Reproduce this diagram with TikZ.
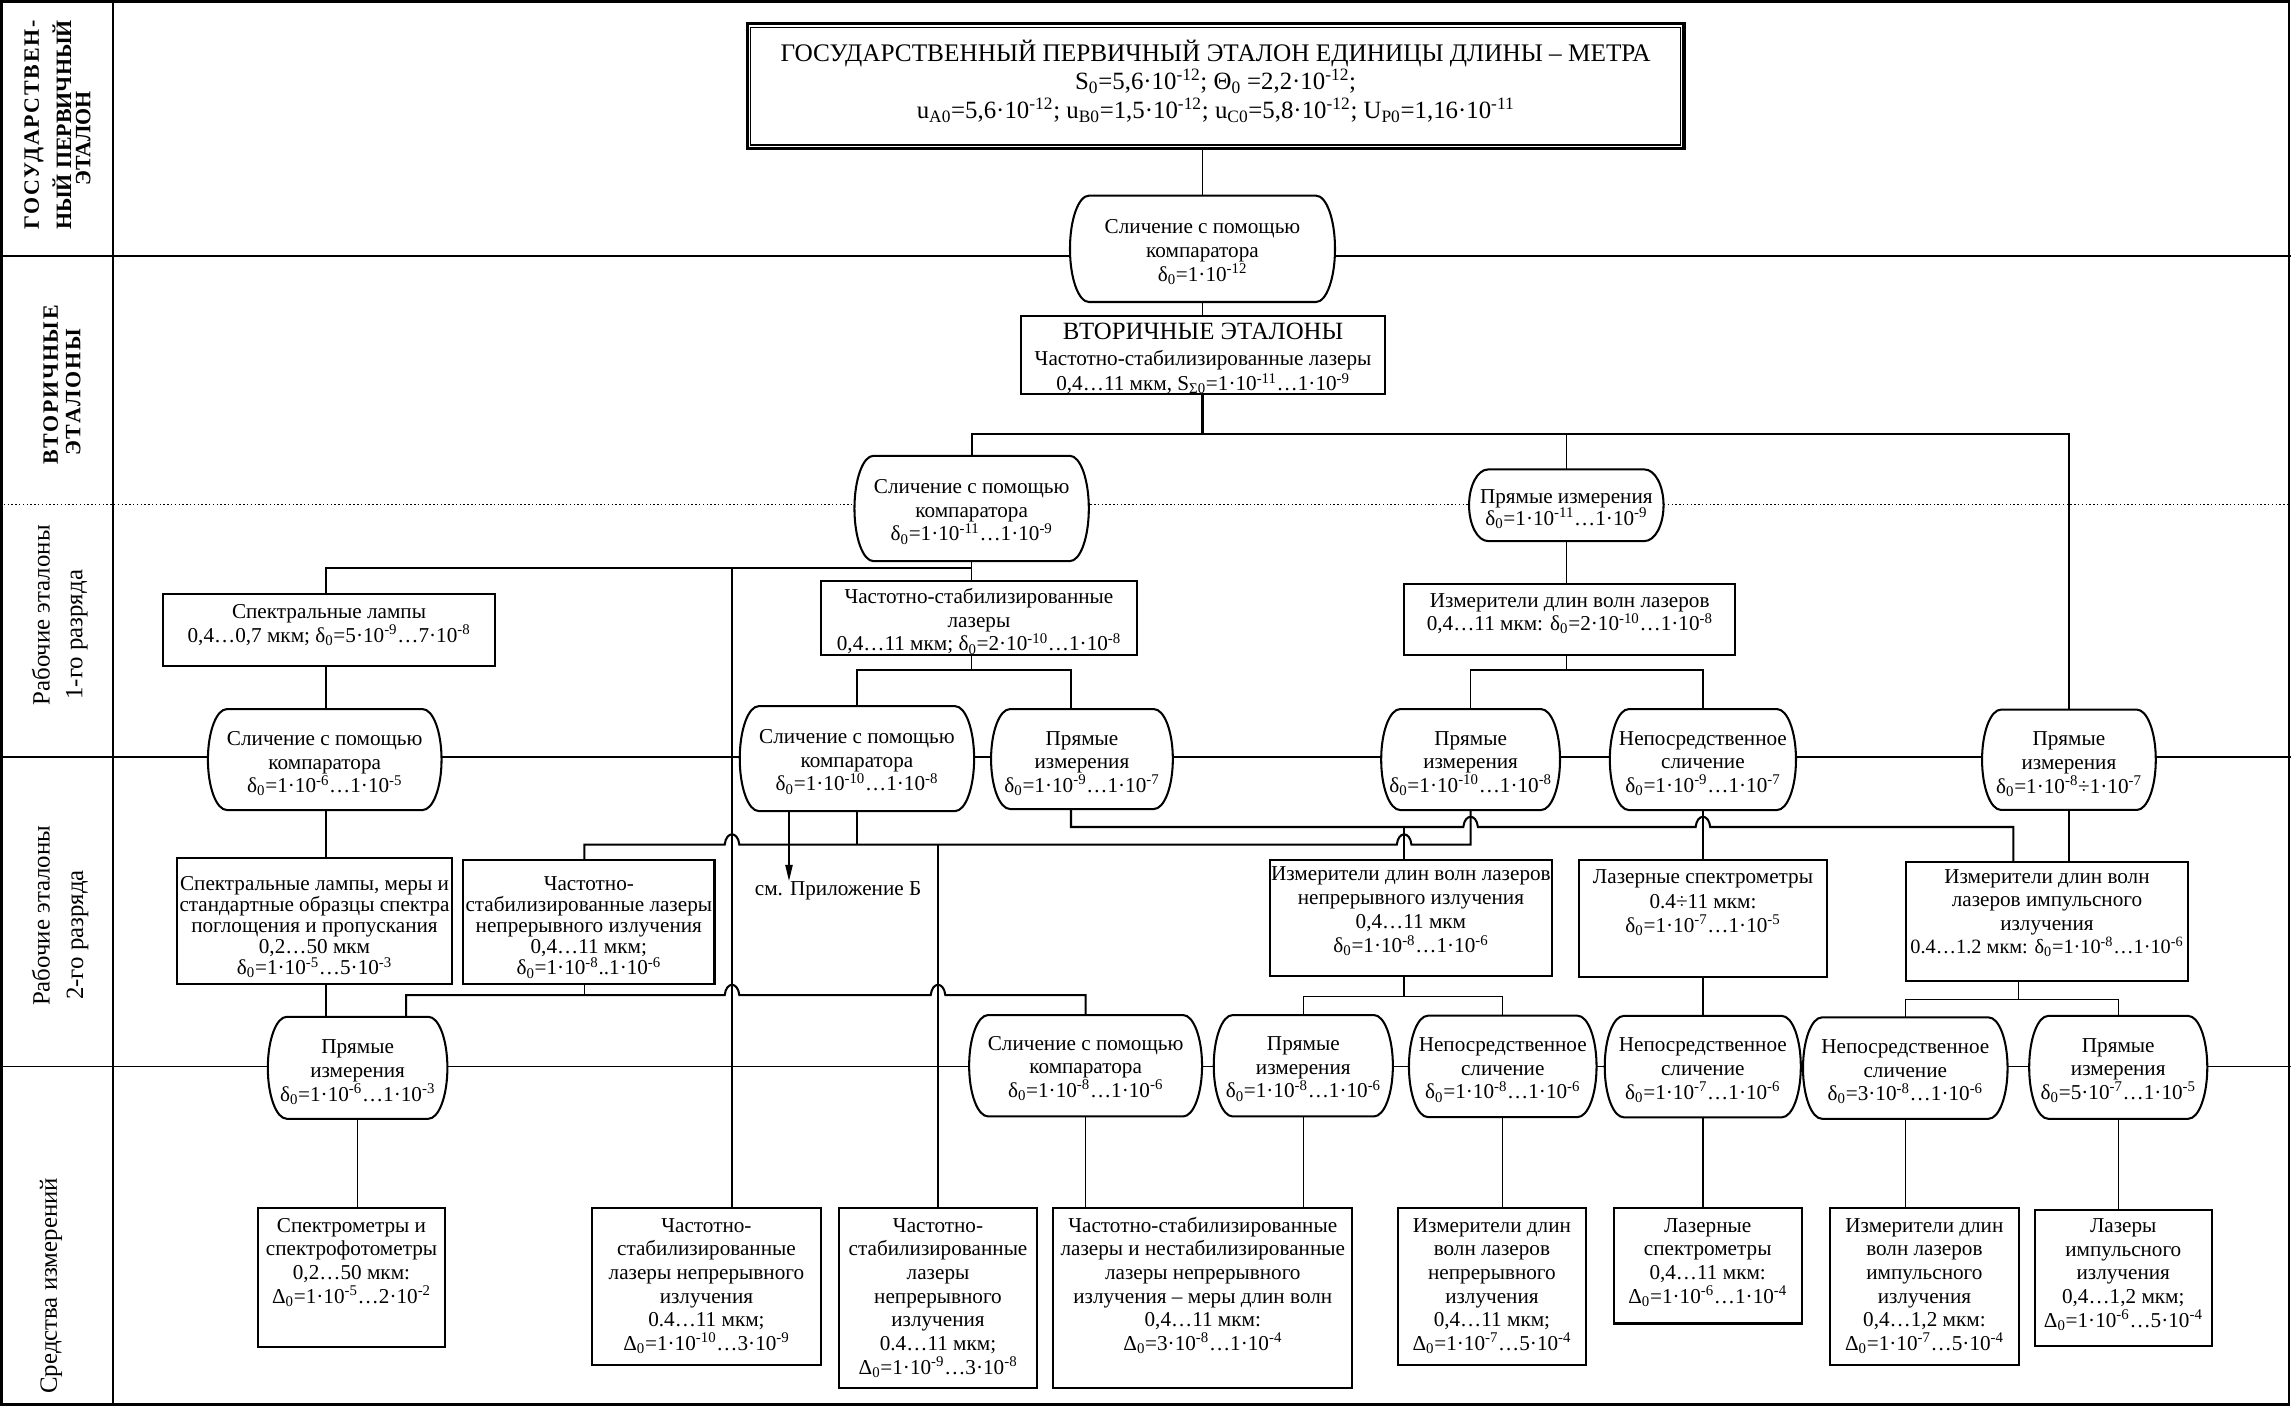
\documentclass[tikz,border=0pt]{standalone}
\usepackage{fontspec}
\setmainfont{Liberation Serif}
\usetikzlibrary{arrows.meta,calc}
\makeatletter
\newdimen\brlxa \newdimen\brlya \newdimen\brlxb \newdimen\brlyb \newdimen\brlry
\pgfdeclareshape{barrel}{%
  \inheritsavedanchors[from=rectangle]%
  \inheritanchorborder[from=rectangle]%
  \inheritanchor[from=rectangle]{center}%
  \inheritanchor[from=rectangle]{north}%
  \inheritanchor[from=rectangle]{south}%
  \inheritanchor[from=rectangle]{east}%
  \inheritanchor[from=rectangle]{west}%
  \inheritanchor[from=rectangle]{north east}%
  \inheritanchor[from=rectangle]{north west}%
  \inheritanchor[from=rectangle]{south east}%
  \inheritanchor[from=rectangle]{south west}%
  \backgroundpath{%
    \southwest \global\brlxa=\pgf@x \global\brlya=\pgf@y
    \northeast \global\brlxb=\pgf@x \global\brlyb=\pgf@y
    \global\brlry=\brlyb \global\advance\brlry by -\brlya \global\divide\brlry by 2
    \pgfpathmoveto{\pgfqpoint{\dimexpr\brlxa+13pt\relax}{\brlyb}}%
    \pgfpathlineto{\pgfqpoint{\dimexpr\brlxb-13pt\relax}{\brlyb}}%
    \pgfpatharc{90}{-90}{13pt and \brlry}%
    \pgfpathlineto{\pgfqpoint{\dimexpr\brlxa+13pt\relax}{\brlya}}%
    \pgfpatharc{270}{90}{13pt and \brlry}%
    \pgfpathclose
  }%
}
\makeatother
\newcommand\mydz{δ\textsubscript{0}}
\newcommand\myDz{Δ\textsubscript{0}}
\newcommand\mytp[1]{·10\textsuperscript{#1}}
\newcommand\bt[5][16.2pt]{\parbox[c][#3][t]{#2}{\vspace*{#4}\makebox[#2][c]{\parbox[t]{700pt}{\fontsize{14.5pt}{#1}\selectfont\lineskiplimit=-100pt\lineskip=0pt\centering\strut#5\par}}}}
\newcommand\lfa{\fontsize{15pt}{18pt}\selectfont\bfseries}
\newcommand\lfb{\fontsize{17pt}{20pt}\selectfont}
\tikzset{
  rbox/.style={draw, rectangle, line width=1.4pt, fill=white, inner sep=0pt},
  brl/.style={draw, shape=barrel, line width=1.4pt, fill=white, inner sep=0pt},
  conn/.style={line width=1pt},
  thk/.style={line width=1.4pt},
  jump/.style 2 args={insert path={-- (#1-5,#2) .. controls (#1-4,#2-9.3) and (#1+4,#2-9.3) .. (#1+5,#2)}},
  lbl/.style={rotate=90, inner sep=0pt},
}
\begin{document}
\begin{tikzpicture}[x=1pt,y=-1pt]
\useasboundingbox (0,0) rectangle (1568,962);
% frame and lanes
\draw[line width=1.1pt] (0,175.1) -- (1568,175.1);
\draw[line width=0.9pt, dash pattern=on 1pt off 1.6pt] (0,345.2) -- (1568,345.2);
\draw[line width=1.1pt] (0,518) -- (1568,518);
\draw[line width=1.1pt] (0,730) -- (1568,730);
\draw[line width=1.4pt] (77.6,0) -- (77.6,962);
\draw[line width=1.9pt] (0.95,0.95) rectangle (1566.6,961.4);
% lane labels
\node[lbl, font=\lfa\addfontfeatures{LetterSpace=8}] (L1a) at (23.2,85.6) {ГОСУДАРСТВЕН-};
\node[lbl, font=\lfa] (L1b) at (42.3,85.6) {НЫЙ ПЕРВИЧНЫЙ};
\node[lbl, font=\lfa] (L1c) at (57,94.7) {ЭТАЛОН};
\node[lbl, font=\lfa\addfontfeatures{LetterSpace=8}] (L2a) at (34.7,263.5) {ВТОРИЧНЫЕ};
\node[lbl, font=\lfa\addfontfeatures{LetterSpace=8}] (L2b) at (50.2,268.6) {ЭТАЛОНЫ};
\node[lbl, font=\lfb, anchor=west] (L3a) at (28,483) {Рабочие эталоны};
\node[lbl, font=\lfb, anchor=west] (L3b) at (52.5,479) {1-го разряда};
\node[lbl, font=\lfb, anchor=west] (L4a) at (28,688.6) {Рабочие эталоны};
\node[lbl, font=\lfb, anchor=west] (L4b) at (53,684.5) {2-го разряда};
\node[lbl, font=\lfb, anchor=west] (L5) at (35,954) {Средства измерений};
% title
\node[rbox, line width=2.2pt] (T) at (832,58.95) {\bt[19.6pt]{641pt}{85.3pt}{11pt}{{\fontsize{17.3pt}{19.6pt}\selectfont ГОСУДАРСТВЕННЫЙ ПЕРВИЧНЫЙ ЭТАЛОН ЕДИНИЦЫ ДЛИНЫ – МЕТРА}\\{\fontsize{17pt}{19.6pt}\selectfont S\textsubscript{0}=5,6\mytp{-12}; Θ\textsubscript{0} =2,2\mytp{-12};}\\{\fontsize{17pt}{19.6pt}\selectfont u\textsubscript{A0}=5,6\mytp{-12}; u\textsubscript{B0}=1,5\mytp{-12}; u\textsubscript{C0}=5,8\mytp{-12}; U\textsubscript{P0}=1,16\mytp{-11}}}};
\draw[line width=0.9pt] ($(T.north west)+(3.4,3.4)$) rectangle ($(T.south east)+(-3.4,-3.4)$);
% upper nodes
\node[brl] (C1) at (823,170.3) {\bt[16.3pt]{180pt}{71.4pt}{13.8pt}{Сличение с помощью\\компаратора\\\mydz=1\mytp{-12}}};
\node[rbox] (B2) at (823.4,242.95) {\bt[17.4pt]{249.6pt}{53.9pt}{4.5pt}{{\fontsize{17pt}{17.4pt}\selectfont ВТОРИЧНЫЕ ЭТАЛОНЫ}\\Частотно-стабилизированные лазеры\\0,4…11 мкм, S\textsubscript{Σ0}=1\mytp{-11}…1\mytp{-9}}};
\node[brl] (C2) at (665,348) {\bt{159pt}{70.7pt}{13.8pt}{Сличение с помощью\\компаратора\\\mydz=1\mytp{-11}…1\mytp{-9}}};
\node[brl] (P2) at (1072,345.8) {\bt[15pt]{131.7pt}{47.6pt}{12pt}{Прямые измерения\\\mydz=1\mytp{-11}…1\mytp{-9}}};
% rank 1
\node[rbox] (Bsl) at (225.2,431.1) {\bt{227pt}{49pt}{5.5pt}{Спектральные лампы\\0,4…0,7 мкм; \mydz=5\mytp{-9}…7\mytp{-8}}};
\node[rbox] (B3) at (670,423) {\bt{216pt}{50.8pt}{4.2pt}{Частотно-стабилизированные\\лазеры\\0,4…11 мкм; \mydz=2\mytp{-10}…1\mytp{-8}}};
\node[rbox] (Bw) at (1074.35,424) {\bt{226.7pt}{48.6pt}{4.4pt}{Измерители длин волн лазеров\\0,4…11 мкм: \mydz=2\mytp{-10}…1\mytp{-8}}};
\node[brl] (C3) at (222.25,519.85) {\bt{158.5pt}{67.7pt}{12.8pt}{Сличение с помощью\\компаратора\\\mydz=1\mytp{-6}…1\mytp{-5}}};
\node[brl] (C4) at (586.5,519.2) {\bt{159pt}{70.4pt}{13.6pt}{Сличение с помощью\\компаратора\\\mydz=1\mytp{-10}…1\mytp{-8}}};
\node[brl] (P4) at (740.5,519.5) {\bt{123pt}{67pt}{12.7pt}{Прямые\\измерения\\\mydz=1\mytp{-9}…1\mytp{-7}}};
\node[brl] (P5) at (1006.5,519.85) {\bt{121pt}{67.7pt}{12.7pt}{Прямые\\измерения\\\mydz=1\mytp{-10}…1\mytp{-8}}};
\node[brl] (N5) at (1165.5,519.85) {\bt{126pt}{67.7pt}{12.7pt}{Непосредственное\\сличение\\\mydz=1\mytp{-9}…1\mytp{-7}}};
\node[brl] (P6) at (1416,520) {\bt{117.5pt}{67.3pt}{12.7pt}{Прямые\\измерения\\\mydz=1\mytp{-8}÷1\mytp{-7}}};
% rank 2
\node[rbox] (B14) at (215.25,630.25) {\bt[14.5pt]{188.5pt}{86.5pt}{12pt}{Спектральные лампы, меры и\\стандартные образцы спектра\\поглощения и пропускания\\0,2…50 мкм\\\mydz=1\mytp{-5}…5\mytp{-3}}};
\node[rbox] (B15) at (403,631.05) {\bt[14.5pt]{172pt}{84.9pt}{10.5pt}{Частотно-\\стабилизированные лазеры\\непрерывного излучения\\0,4…11 мкм;\\\mydz=1\mytp{-8}..1\mytp{-6}}};
\node[anchor=base, inner sep=0pt, font=\fontsize{14.5pt}{16pt}\selectfont] (app) at (573.6,612.6) {см. Приложение Б};
\node[rbox] (Bcont) at (965.65,628.3) {\bt[16.5pt]{193.3pt}{79.4pt}{2.4pt}{Измерители длин волн лазеров\\непрерывного излучения\\0,4…11 мкм\\\mydz=1\mytp{-8}…1\mytp{-6}}};
\node[rbox] (Bls) at (1165.55,628.55) {\bt[16.5pt]{169.9pt}{79.9pt}{4.8pt}{Лазерные спектрометры\\0.4÷11 мкм:\\\mydz=1\mytp{-7}…1\mytp{-5}}};
\node[rbox] (Bimp) at (1400.95,630.5) {\bt[16pt]{192.7pt}{81.4pt}{3.7pt}{Измерители длин волн\\лазеров импульсного\\излучения\\{\fontsize{13.9pt}{16pt}\selectfont 0.4…1.2 мкм: \mydz=1\mytp{-8}…1\mytp{-6}}}};
\node[brl] (Pb1) at (244.75,730.8) {\bt{121.5pt}{68.4pt}{13.2pt}{Прямые\\измерения\\\mydz=1\mytp{-6}…1\mytp{-3}}};
\node[brl] (Cb) at (743,729.4) {\bt{158pt}{68pt}{12pt}{Сличение с помощью\\компаратора\\\mydz=1\mytp{-8}…1\mytp{-6}}};
\node[brl] (Pb2) at (892,729.4) {\bt{121.2pt}{68pt}{12.3pt}{Прямые\\измерения\\\mydz=1\mytp{-8}…1\mytp{-6}}};
\node[brl] (Nb1) at (1028.5,729.85) {\bt{127pt}{68pt}{12.5pt}{Непосредственное\\сличение\\\mydz=1\mytp{-8}…1\mytp{-6}}};
\node[brl] (Nb2) at (1165.4,730) {\bt{132.8pt}{68pt}{12.6pt}{Непосредственное\\сличение\\\mydz=1\mytp{-7}…1\mytp{-6}}};
\node[brl] (Nb3) at (1304,731) {\bt{138.6pt}{68pt}{12.6pt}{Непосредственное\\сличение\\\mydz=3\mytp{-8}…1\mytp{-6}}};
\node[brl] (Pb3) at (1449.75,730.5) {\bt{120.5pt}{69pt}{12.8pt}{Прямые\\измерения\\\mydz=5\mytp{-7}…1\mytp{-5}}};
% measuring instruments
\node[rbox] (Bb1) at (240.55,874.35) {\bt{128.5pt}{94.7pt}{4.9pt}{Спектрометры и\\спектрофотометры\\0,2…50 мкм:\\\myDz=1\mytp{-5}…2\mytp{-2}}};
\node[rbox] (Bb2) at (483.5,880.65) {\bt{157pt}{107.3pt}{4.9pt}{Частотно-\\стабилизированные\\лазеры непрерывного\\излучения\\0.4…11 мкм;\\\myDz=1\mytp{-10}…3\mytp{-9}}};
\node[rbox] (Bb3) at (642,888.4) {\bt{136pt}{122.8pt}{4.9pt}{Частотно-\\стабилизированные\\лазеры\\непрерывного\\излучения\\0.4…11 мкм;\\\myDz=1\mytp{-9}…3\mytp{-8}}};
\node[rbox] (Bb4) at (823.2,888.4) {\bt{204.4pt}{122.8pt}{4.9pt}{Частотно-стабилизированные\\лазеры и нестабилизированные\\лазеры непрерывного\\излучения – меры длин волн\\0,4…11 мкм:\\\myDz=3\mytp{-8}…1\mytp{-4}}};
\node[rbox] (Bb5) at (1021.1,880.65) {\bt{128.6pt}{107.3pt}{4.9pt}{Измерители длин\\волн лазеров\\непрерывного\\излучения\\0,4…11 мкм;\\\myDz=1\mytp{-7}…5\mytp{-4}}};
\node[rbox] (Bb6) at (1168.75,866.4) {\bt{128.5pt}{78.8pt}{4.9pt}{Лазерные\\спектрометры\\0,4…11 мкм:\\\myDz=1\mytp{-6}…1\mytp{-4}}};
\node[rbox] (Bb7) at (1317.1,880.65) {\bt{129pt}{107.3pt}{4.9pt}{Измерители длин\\волн лазеров\\импульсного\\излучения\\0,4…1,2 мкм:\\\myDz=1\mytp{-7}…5\mytp{-4}}};
\node[rbox] (Bb8) at (1453.2,874.65) {\bt{121.2pt}{93.3pt}{4.2pt}{Лазеры\\импульсного\\излучения\\0,4…1,2 мкм;\\\myDz=1\mytp{-6}…5\mytp{-4}}};
% routing levels
\coordinate (yBus) at (0,297);
\coordinate (y389) at (0,389);
\coordinate (y459) at (0,458.6);
\coordinate (y566) at (0,566);
\coordinate (y578) at (0,578);
\coordinate (y681) at (0,681);
\coordinate (y682) at (0,682);
\coordinate (y684) at (0,684);
\coordinate (x223) at (223,0);
\coordinate (x278) at (278,0);
\coordinate (x400) at (400,0);
\coordinate (x501) at (501,0);
\coordinate (x540) at (540,0);
\coordinate (x642) at (642,0);
\coordinate (x733) at (733,0);
\coordinate (x961) at (961,0);
\coordinate (x1378) at (1378,0);
\coordinate (x1382) at (1381.6,0);
% connectors
\draw[conn] (T.south -| C1.north) -- (C1.north);
\draw[conn] (C1.south) -- (C1.south |- B2.north);
\draw[thk] (C1.south |- B2.south) -- (C1.south |- yBus);
\draw[thk] (C2.north) -- (C2.north |- yBus) -- (P6.north |- yBus) -- (P6.north);
\draw[conn] (P2.north |- yBus) -- (P2.north);
\draw[conn] (C2.south) -- (C2.south |- B3.north);
\draw[thk] (x223 |- Bsl.north) -- (x223 |- y389) -- (C2.south |- y389);
\draw[thk] (x501 |- y389) -- (x501 |- Bb2.north);
\draw[conn] (x223 |- Bsl.south) -- (x223 |- C3.north);
\draw[conn] (x223 |- C3.south) -- (x223 |- B14.north);
\draw[conn] (x223 |- B14.south) -- (x223 |- Pb1.north);
\draw[conn] (C2.south |- B3.south) -- (C2.south |- y459);
\draw[conn] (C4.north) -- (C4.north |- y459) -- (x733 |- y459) -- (x733 |- P4.north);
\draw[conn] (P2.south) -- (P2.south |- Bw.north);
\draw[conn] (P2.south |- Bw.south) -- (P2.south |- y459);
\draw[conn] (P5.north) -- (P5.north |- y459) -- (N5.north |- y459) -- (N5.north);
\draw[conn] (P6.south) -- (P6.south |- Bimp.north);
\draw[conn, -{Triangle[width=5pt,length=11pt]}] (x540 |- C4.south) -- (x540 |- app.north);
\draw[thk] (x400 |- B15.north) -- (x400 |- y578) [jump={501}{578}] [jump={961}{578}] -- (P5.south |- y578) -- (P5.south);
\draw[conn] (C4.south) -- (C4.south |- y578);
\draw[conn] (x642 |- y578) -- (x642 |- Bb3.north);
\draw[thk] (x733 |- P4.south) -- (x733 |- y566) [jump={1006.5}{566}] [jump={1165.5}{566}] -- (x1378 |- y566) -- (x1378 |- Bimp.north);
\draw[conn] (x961 |- y566) -- (x961 |- Bcont.north);
\draw[conn] (N5.south) -- (N5.south |- Bls.north);
\draw[thk] (x278 |- Pb1.north) -- (x278 |- y681) [jump={501}{681}] [jump={642}{681}] -- (Cb.north |- y681) -- (Cb.north);
\draw[conn] (x400 |- B15.south) -- (x400 |- y681);
\draw[conn] (x961 |- Bcont.south) -- (x961 |- y682);
\draw[conn] (Pb2.north) -- (Pb2.north |- y682) -- (Nb1.north |- y682) -- (Nb1.north);
\draw[conn] (Nb2.north |- Bls.south) -- (Nb2.north);
\draw[conn] (x1382 |- Bimp.south) -- (x1382 |- y684);
\draw[conn] (Nb3.north) -- (Nb3.north |- y684) -- (Pb3.north |- y684) -- (Pb3.north);
\draw[conn] (Pb1.south) -- (Pb1.south |- Bb1.north);
\draw[conn] (Cb.south) -- (Cb.south |- Bb4.north);
\draw[conn] (Pb2.south) -- (Pb2.south |- Bb4.north);
\draw[conn] (Nb1.south) -- (Nb1.south |- Bb5.north);
\draw[conn] (Nb2.south) -- (Nb2.south |- Bb6.north);
\draw[conn] (Nb3.south) -- (Nb3.south |- Bb7.north);
\draw[conn] (Pb3.south) -- (Pb3.south |- Bb8.north);
\end{tikzpicture}
\end{document}
